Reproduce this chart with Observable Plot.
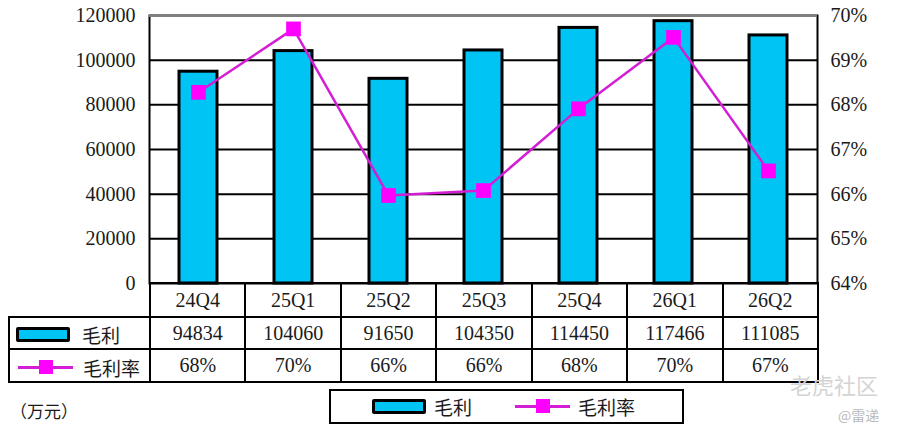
<!DOCTYPE html>
<html>
<head>
<meta charset="utf-8">
<script src="https://cdn.jsdelivr.net/npm/d3@7"></script>
<script src="https://cdn.jsdelivr.net/npm/@observablehq/plot@0.6"></script>
<style>
  html, body { margin: 0; padding: 0; background: #fff; }
  #wrap { position: relative; width: 900px; height: 438px; overflow: hidden;
          font-family: "Liberation Serif", "Noto Sans CJK SC", serif; color: #1a1a1a; }
  #chart { position: absolute; left: 0; top: 0; }
  #chart svg { overflow: visible; }
  table.dt { position: absolute; left: 8px; top: 282px; border-collapse: collapse; table-layout: fixed;
             font-size: 20px; }
  table.dt td { border: 2px solid #000; text-align: center; padding: 0; white-space: nowrap; }
  table.dt td.blank { border-top: none; border-left: none; }
  table.dt td.lab { text-align: left; font-family: "Noto Sans CJK SC", sans-serif; font-size: 19px; }
  .sw { display: inline-block; vertical-align: middle; }
  .bar-sw { width: 48px; height: 9px; background: #00c4f4; border: 3px solid #000; border-radius: 2px; }
  .line-sw { position: relative; width: 55px; height: 16px; }
  .line-sw::before { content: ""; position: absolute; left: 0; right: 0; top: 7px; height: 3px; background: #d41ed4; }
  .line-sw::after { content: ""; position: absolute; left: 21px; top: 1px; width: 14px; height: 14px; background: #ff00ff; }
  #legend { position: absolute; left: 329px; top: 389px; width: 351px; height: 31px; border: 2px solid #000;
            font-family: "Noto Sans CJK SC", sans-serif; font-size: 19px; }
  #unit { position: absolute; left: 10px; top: 398px; font-family: "Noto Sans CJK SC", sans-serif; font-size: 17px; }
  .wm { position: absolute; font-family: "Noto Sans CJK SC", sans-serif; color: #d4d4d4; }
</style>
</head>
<body>
<div id="wrap">
  <div id="chart"></div>
</div>
<script>
// ---- data ----
const quarters = ["24Q4", "25Q1", "25Q2", "25Q3", "25Q4", "26Q1", "26Q2"];
const grossProfit = [94834, 104060, 91650, 104350, 114450, 117466, 111085];
const grossMarginPct = [68.28, 69.70, 65.97, 66.08, 67.91, 69.51, 66.52];
const marginLabels = ["68%", "70%", "66%", "66%", "68%", "70%", "67%"];
const leftTicks = [0, 20000, 40000, 60000, 80000, 100000, 120000];
const rightTicks = [64, 65, 66, 67, 68, 69, 70];
const seriesNames = ["毛利", "毛利率"];
const unitLabel = "（万元）";

// ---- dual axis mapping ----
const yMax = 120000;
const pctMin = 64, pctMax = 70;
const pctToY = p => (p - pctMin) / (pctMax - pctMin) * yMax;

const rows = quarters.map((q, i) => ({ q, gp: grossProfit[i], rate: grossMarginPct[i] }));

const plot = Plot.plot({
  width: 900,
  height: 300,
  marginTop: 15,
  marginBottom: 17,
  marginLeft: 149,
  marginRight: 83,
  style: { fontFamily: "Liberation Serif, serif", fontSize: "20px", color: "#1a1a1a", background: "transparent" },
  x: { domain: quarters, paddingInner: 0.6, paddingOuter: 0.3, axis: null },
  y: { domain: [0, yMax], axis: null },
  marks: [
    Plot.ruleY(leftTicks.slice(1, -1), { stroke: "#000", strokeWidth: 2 }),
    Plot.barY(rows, { x: "q", y: "gp", fill: "#00c4f4", stroke: "#000", strokeWidth: 3 }),
    Plot.frame({ stroke: "#000", strokeWidth: 2 }),
    Plot.ruleY([yMax], { stroke: "#808080", strokeWidth: 3 }),
    Plot.line(rows, { x: "q", y: d => pctToY(d.rate), stroke: "#d41ed4", strokeWidth: 2.5 }),
    Plot.dot(rows, { x: "q", y: d => pctToY(d.rate), symbol: "square", r: 8.3, fill: "#ff00ff", stroke: "none" }),
    Plot.axisY(leftTicks, { anchor: "left", tickSize: 0, tickPadding: 14, tickFormat: d => String(d), label: null, fill: "#1a1a1a" }),
    Plot.axisY(rightTicks.map(pctToY), { anchor: "right", tickSize: 0, tickPadding: 13,
      tickFormat: (d, i) => rightTicks[i] + "%", label: null, fill: "#1a1a1a" })
  ]
});
document.getElementById("chart").appendChild(plot);

// ---- data table under the chart ----
const wrap = document.getElementById("wrap");
const table = document.createElement("table");
table.className = "dt";
const colgroup = document.createElement("colgroup");
const labelW = 141, colW = 668 / quarters.length;
[labelW, ...quarters.map(() => colW)].forEach(w => {
  const c = document.createElement("col"); c.style.width = w + "px"; colgroup.appendChild(c);
});
table.appendChild(colgroup);

function addRow(height, labelHTML, cells, blank) {
  const tr = document.createElement("tr");
  tr.style.height = height + "px";
  const th = document.createElement("td");
  if (blank) th.className = "blank"; else { th.className = "lab"; th.innerHTML = labelHTML; }
  tr.appendChild(th);
  cells.forEach(v => { const td = document.createElement("td"); td.textContent = v; tr.appendChild(td); });
  table.appendChild(tr);
}
addRow(34, "", quarters, true);
addRow(32, `<span class="sw bar-sw" style="margin-left:6px"></span><span style="margin-left:12px;vertical-align:middle">${seriesNames[0]}</span>`, grossProfit.map(String));
addRow(31, `<span class="sw line-sw" style="margin-left:8px"></span><span style="margin-left:10px;vertical-align:middle">${seriesNames[1]}</span>`, marginLabels);
wrap.appendChild(table);

// ---- legend ----
const legend = document.createElement("div");
legend.id = "legend";
legend.innerHTML = `
  <span class="sw bar-sw" style="position:absolute;left:41px;top:8px"></span>
  <span style="position:absolute;left:103px;top:2px">${seriesNames[0]}</span>
  <span class="sw line-sw" style="position:absolute;left:184px;top:7px"></span>
  <span style="position:absolute;left:247px;top:2px">${seriesNames[1]}</span>`;
wrap.appendChild(legend);

// ---- unit ----
const unit = document.createElement("div");
unit.id = "unit";
unit.textContent = unitLabel;
wrap.appendChild(unit);

// ---- watermark ----
const wm1 = document.createElement("div");
wm1.className = "wm"; wm1.style.left = "790px"; wm1.style.top = "368px"; wm1.style.fontSize = "22px";
wm1.textContent = "老虎社区";
wrap.appendChild(wm1);
const wm2 = document.createElement("div");
wm2.className = "wm"; wm2.style.left = "838px"; wm2.style.top = "405px"; wm2.style.fontSize = "14px"; wm2.style.color = "#bbb";
wm2.textContent = "@雷递";
wrap.appendChild(wm2);
</script>
</body>
</html>
